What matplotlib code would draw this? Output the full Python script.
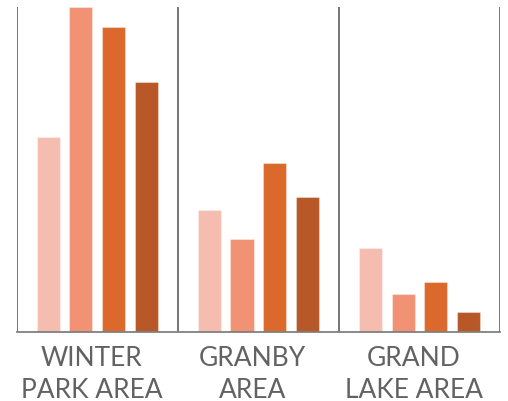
import numpy as np
import matplotlib
matplotlib.use("Agg")
import matplotlib.pyplot as plt

# Areas along the x axis and the four series per area
areas = ["WINTER\nPARK AREA", "GRANBY\nAREA", "GRAND\nLAKE AREA"]
series_1 = [60.0, 37.4, 25.7]
series_2 = [100.0, 28.5, 11.5]
series_3 = [93.7, 51.9, 15.2]
series_4 = [76.9, 41.4, 6.2]
colors = ["#F4BDB0", "#F09273", "#DB692C", "#B85727"]

fig = plt.figure(figsize=(5.08, 4.02), dpi=100)
ax = fig.add_axes([0.0329, 0.1724, 0.9513, 0.8076])

centers = np.arange(len(areas)) + 0.5
step = 0.203
width = 0.143
for i, vals in enumerate([series_1, series_2, series_3, series_4]):
    ax.bar(centers + (i - 1.5) * step, vals, width=width, color=colors[i],
           edgecolor=(1, 1, 1, 0.35), linewidth=0.8)

ax.set_xlim(0, len(areas))
ax.set_ylim(0, 100)

# vertical separators between areas and the baseline
for x in range(len(areas) + 1):
    ax.axvline(x, color="#6b6b6b", lw=1.3)
for side in ["top", "right", "left"]:
    ax.spines[side].set_visible(False)
ax.spines["bottom"].set_color("#808080")
ax.spines["bottom"].set_linewidth(1.3)

ax.set_xticks([])
ax.set_yticks([])

for c, name in zip(centers, areas):
    ax.text(c - 0.035, -0.04, name, transform=ax.get_xaxis_transform(),
            ha="center", va="top", fontsize=19, color="#626262",
            family="Lato", linespacing=1.38)

fig.savefig("out.png", dpi=100)
